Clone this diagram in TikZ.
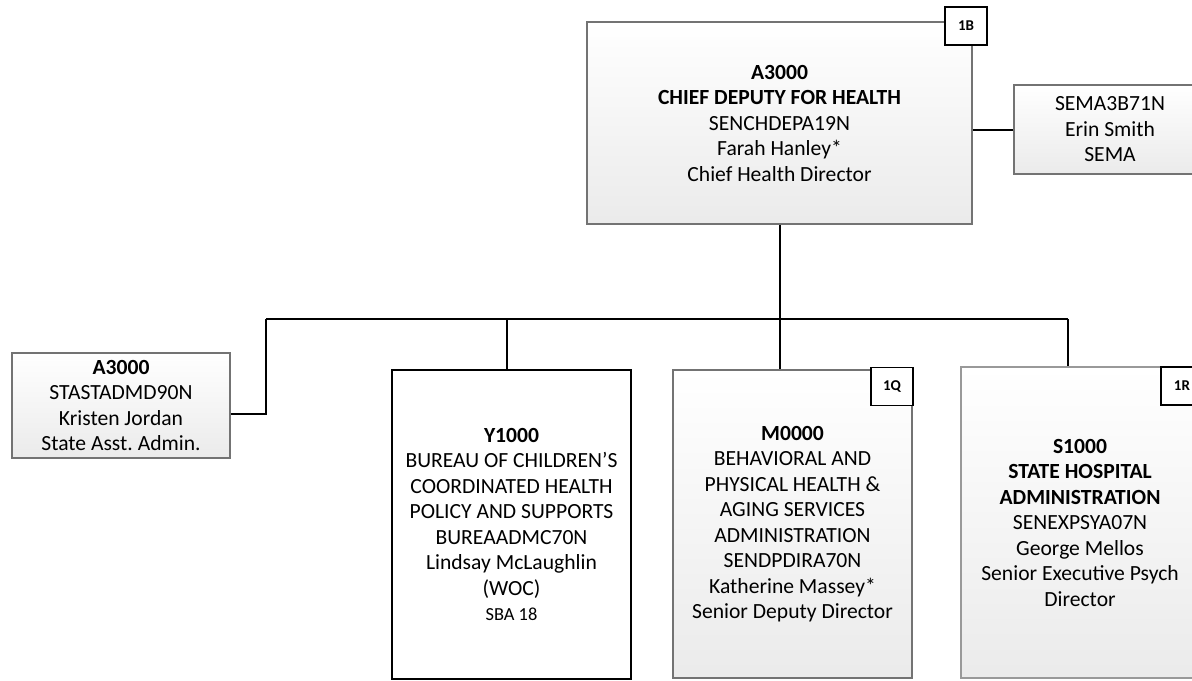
\documentclass[tikz,border=0pt]{standalone}
\usepackage{fontspec}
\setmainfont{Carlito}
\frenchspacing

\begin{document}
\begin{tikzpicture}[x=0.5pt,y=-0.5pt,
	unit/.style={draw=black!55, line width=0.75pt, top color=white, bottom color=black!8, align=center, font=\fontsize{10.8}{12.75}\selectfont},
	plain/.style={draw=black, line width=1pt, fill=white, align=center, font=\fontsize{10.8}{12.75}\selectfont},
	tag/.style={draw=black, line width=0.9pt, fill=white, inner sep=0pt, minimum width=21pt, minimum height=19pt, font=\fontsize{7.5}{9}\selectfont\bfseries},
	link/.style={line width=1pt}]
	\useasboundingbox (0,0) rectangle (1192,680);
	% boxes
	\node[unit, minimum width=192.5pt, minimum height=101pt] (chief) at (779.5,123) {\textbf{A3000}\\\textbf{CHIEF DEPUTY FOR HEALTH}\\SENCHDEPA19N\\Farah Hanley*\\Chief Health Director};
	\node[unit, minimum width=96pt, minimum height=44.5pt] (sema) at (1110,129.5) {SEMA3B71N\\Erin Smith\\SEMA};
	\node[unit, minimum width=109pt, minimum height=52.5pt] (asst) at (121,405.5) {\textbf{A3000}\\STASTADMD90N\\Kristen Jordan\\State Asst. Admin.};
	\node[plain, minimum width=119.5pt, minimum height=154.5pt] (bcch) at (511.5,524.5) {\textbf{Y1000}\\BUREAU OF CHILDREN’S\\COORDINATED HEALTH\\POLICY AND SUPPORTS\\BUREAADMC70N\\Lindsay McLaughlin\\(WOC)\\{\fontsize{9.2}{11}\selectfont SBA 18}};
	\node[unit, minimum width=119.5pt, minimum height=154pt] (bhas) at (792.5,524) {\textbf{M0000}\\BEHAVIORAL AND\\PHYSICAL HEALTH \&\\AGING SERVICES\\ADMINISTRATION\\SENDPDIRA70N\\Katherine Massey*\\Senior Deputy Director};
	\node[unit, draw=black!40, line width=1pt, minimum width=119pt, minimum height=155.5pt] (sha) at (1080,522.5) {\textbf{S1000}\\\textbf{STATE HOSPITAL}\\\textbf{ADMINISTRATION}\\SENEXPSYA07N\\George Mellos\\Senior Executive Psych\\Director};
	% connectors
	\coordinate (busL) at (266,319);
	\coordinate (busR) at (1068,319);
	\draw[link] (sema.west) -- (sema.west -| chief.east);
	\draw[link] (chief.south) -- (chief.south |- bhas.north);
	\draw[link] (busL) -- (busR);
	\draw[link] (busL) |- ([yshift=-4.25pt]asst.east);
	\draw[link] ([xshift=-2.25pt]bcch.north |- busL) -- ([xshift=-2.25pt]bcch.north);
	\draw[link] (busR) -- (busR |- sha.north);
	% tags
	\node[tag] (tagB) at (966,26) {1B};
	\node[tag] (tagQ) at (892,386.5) {1Q};
	\node[tag] (tagR) at (1182,386) {1R};
\end{tikzpicture}
\end{document}
